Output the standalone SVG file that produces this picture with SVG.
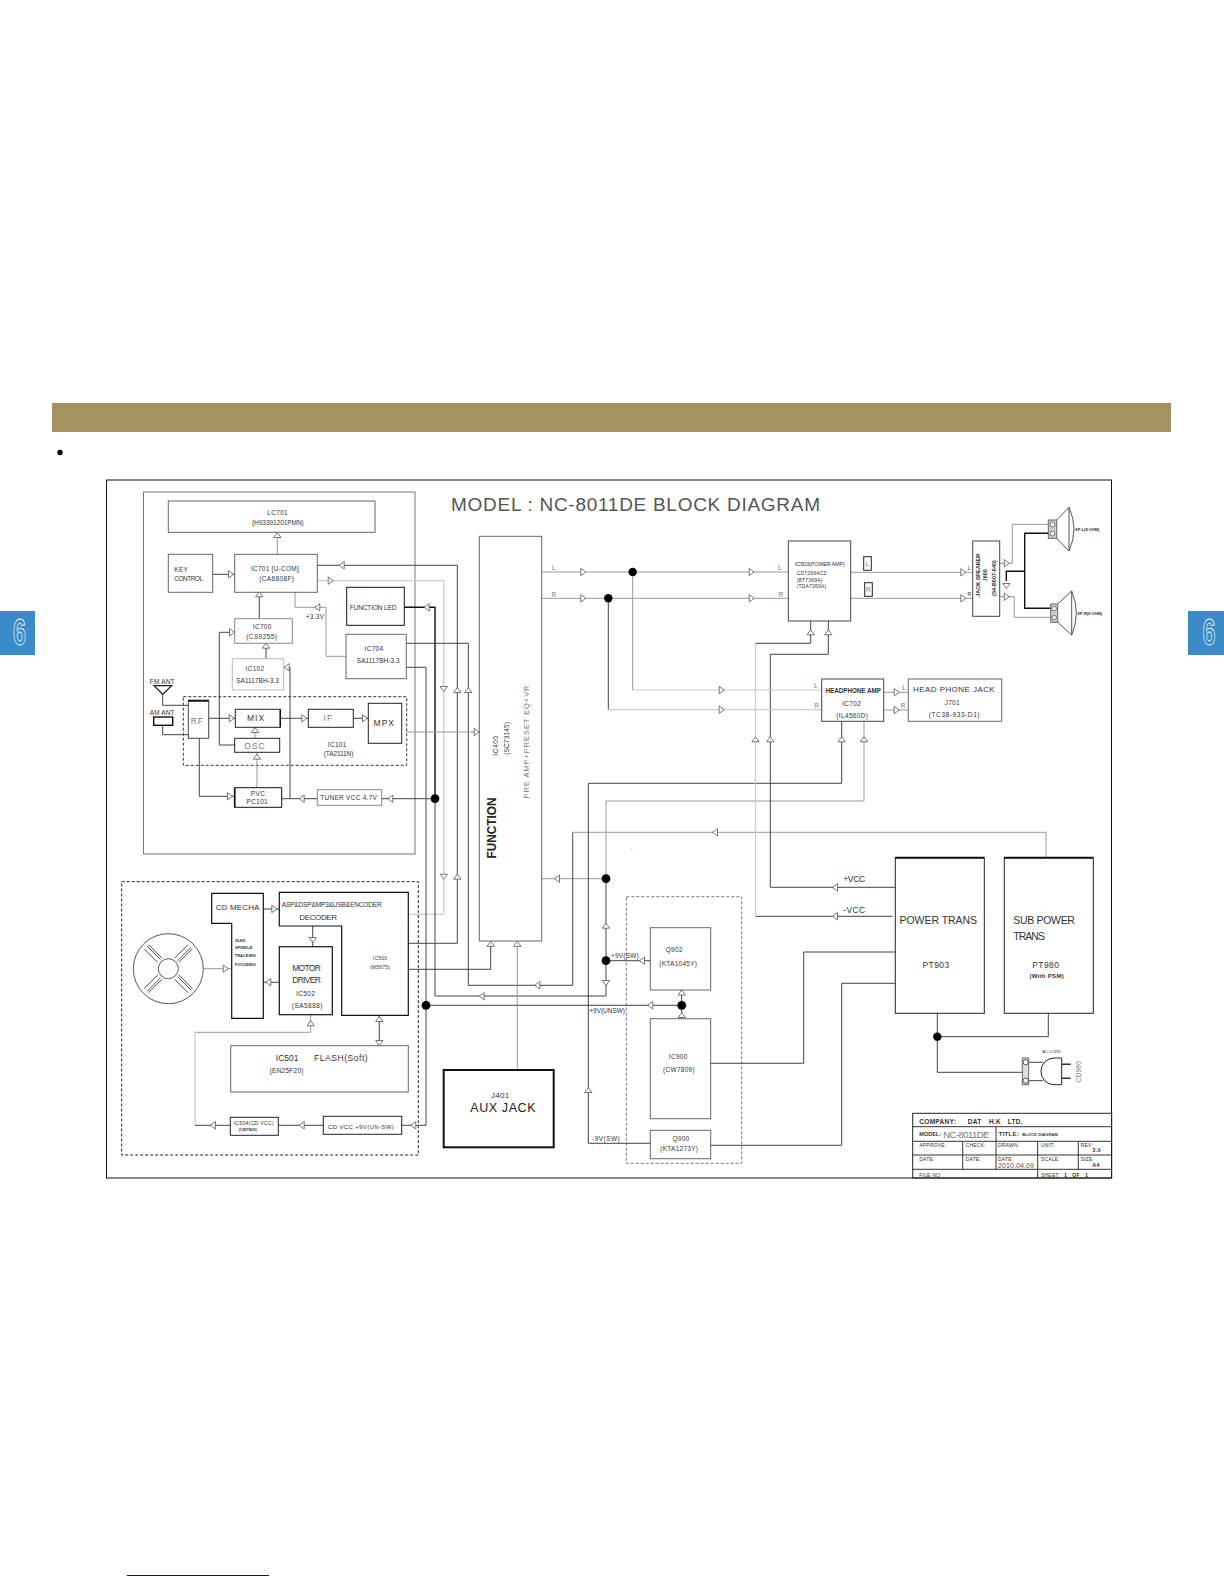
<svg xmlns="http://www.w3.org/2000/svg" width="1224" height="1584" viewBox="0 0 1224 1584">
<style>
text{font-family:"Liberation Sans",Arial,sans-serif;fill:#333;font-size:6.5px;letter-spacing:.3px;dominant-baseline:central}
.m{text-anchor:middle}
.b{font-weight:bold}
.g{fill:#777}
.s{font-size:5px;letter-spacing:.2px}
.t{font-size:4px;letter-spacing:0;font-weight:bold}
.l{font-size:8.5px;letter-spacing:1px}
.xl{font-size:10.5px;letter-spacing:1.4px}
.box{fill:none;stroke:#444;stroke-width:1}
.gb{fill:none;stroke:#888;stroke-width:1}
.lb{fill:none;stroke:#bbb;stroke-width:1}
.hb{fill:none;stroke:#111;stroke-width:1.5}
.dash{fill:none;stroke:#444;stroke-width:1;stroke-dasharray:3 2}
.c{fill:none;stroke:#444;stroke-width:1}
.cg{fill:none;stroke:#999;stroke-width:1}
.cl{fill:none;stroke:#ccc;stroke-width:1.2}
.ck{fill:none;stroke:#111;stroke-width:1.4}
.arrow{fill:#fff;stroke:#555;stroke-width:.8}
.dot{fill:#000}
</style>
<defs>
<path id="a" d="M-2.5 -3.7 L2.5 0 L-2.5 3.7Z"/>
</defs>
<rect x="0" y="0" width="1224" height="1584" fill="#fff"/>
<g id="page">
<rect x="52" y="403" width="1119" height="29" fill="#a3915f"/>
<circle cx="60" cy="452.5" r="2.7" fill="#000"/>
<rect x="0" y="611" width="35" height="44" fill="#3a8cc8"/>
<rect x="1188" y="611" width="36" height="44" fill="#3a8cc8"/>
<text x="19.5" y="632" class="m" textLength="13" lengthAdjust="spacingAndGlyphs" style="font-size:36px;fill:none;stroke:#fff;stroke-width:.8;font-weight:bold;letter-spacing:0">6</text>
<text x="1209" y="632" class="m" textLength="13" lengthAdjust="spacingAndGlyphs" style="font-size:36px;fill:none;stroke:#fff;stroke-width:.8;font-weight:bold;letter-spacing:0">6</text>
<rect x="106.5" y="480" width="1005" height="698" fill="none" stroke="#111" stroke-width="1"/>
<line x1="127" y1="1575.5" x2="269" y2="1575.5" stroke="#101080" stroke-width="1"/>
<text x="451" y="504.5" textLength="369" style="font-size:19px;letter-spacing:0;fill:#555">MODEL : NC-8011DE BLOCK DIAGRAM</text>
<rect x="143.5" y="492" width="271.5" height="362" class="box" style="stroke:#777"/>
<rect x="121.7" y="881.7" width="296.6" height="273.3" class="dash" style="stroke:#222"/>
<rect x="183.3" y="696.7" width="223.4" height="68.6" class="dash" style="stroke:#333"/>
<rect x="626.3" y="896.7" width="115.4" height="266.6" class="dash" style="stroke:#777"/>
<circle cx="631.7" cy="849" r=".6" fill="#888"/>
</g>
<g id="connectors">
<path class="cg" d="M277.3 532.3V554.3"/>
<path class="c" d="M212.7 574.3H234.7"/>
<path class="c" d="M317.3 565.3H457.3V943.3H408.3"/>
<path class="cl" d="M317.3 580.7H443.7V914.3H408.3"/>
<path class="cg" d="M295 592.3V607.3H326V656.3H346"/>
<path class="ck" d="M404.3 607.3H435V798.7"/>
<path class="c" d="M435 798.7V996H606V878.7"/>
<path class="cg" d="M606 878.7H541.7"/>
<path class="cg" d="M606 878.7V801H864V721.3"/>
<path class="c" d="M606 960.7H650.3"/>
<path class="c" d="M406.3 643.3H468.3V985.3H572.7V832.3"/>
<path class="cg" d="M572.7 832.3H1046V857.7"/>
<path class="c" d="M406.3 667.3H426V1125.3H401.7"/>
<path class="c" d="M426 1005.3H681.7"/>
<path class="c" d="M681.7 990V1018.7"/>
<path class="c" d="M588.3 1143.3V783.3H841.7V721.3"/>
<path class="c" d="M588.3 1143.3H650.3"/>
<path class="c" d="M710.7 1063.3H803.7V952H895.3"/>
<path class="c" d="M710.7 1145.3H841.7V983.3H895.3"/>
<path class="c" d="M895.3 887.3H770.3V654.3H828.3V621"/>
<path class="c" d="M892.7 916.3H755.5"/>
<path class="cl" d="M755.5 916.3V643.3"/>
<path class="c" d="M755.5 643.3H810.7V621"/>
<path class="cg" d="M541.7 572H788.3"/>
<path class="cg" d="M541.7 598.3H788.3"/>
<path class="cg" d="M632.7 572V690"/>
<path class="cl" d="M632.7 690H821.7"/>
<path class="c" d="M608.3 598.3V709.7"/>
<path class="cl" d="M608.3 709.7H821.7"/>
<path class="cg" d="M883.7 692.3H908.3"/>
<path class="cg" d="M883.7 710H908.3"/>
<path class="cg" d="M850.7 572.3H972.7"/>
<path class="cg" d="M850.7 598.3H972.7"/>
<path class="cg" d="M999.7 563.3H1012.3V524.3H1048.3"/>
<path class="cg" d="M999.7 596.7H1014.3V617.3H1050.7"/>
<path class="ck" d="M1006.3 581V571.3H1024.7M1048.3 533.3H1024.7V608.3H1050.7"/>
<path class="cg" d="M406.7 732H479.3"/>
<path class="c" d="M408.3 969.3H490.7V941"/>
<path class="cg" d="M517.3 941V1070"/>
<path class="c" d="M259.3 592.3V618.7"/>
<path class="c" d="M266 643.3V658.7"/>
<path class="c" d="M234.7 745H219.3V632.3H234.7"/>
<path class="c" d="M162.7 694.3V705.3H188.3"/>
<path class="c" d="M162.7 725.3V734.7H188.3"/>
<path class="c" d="M208.7 718.3H235.3"/>
<path class="c" d="M280.3 718.3H308.3"/>
<path class="c" d="M353.3 718.3H368.3"/>
<path class="cg" d="M255 727.3V738.3"/>
<path class="cg" d="M257 752.3V787.7"/>
<path class="c" d="M199.3 738.3V796.3H234.7"/>
<path class="c" d="M281.7 798.7H317.3"/>
<path class="c" d="M290 798.7V667.3H283.7"/>
<path class="c" d="M381.7 798.7H435"/>
<path class="c" d="M263.3 909H279.3"/>
<path class="c" d="M312.7 926V946.7"/>
<path class="c" d="M279.3 982.3H263.3"/>
<path class="cg" d="M203.3 968.7H231.7"/>
<path class="c" d="M379.3 1015.3V1045.7"/>
<path class="cg" d="M310.7 1014.7V1032.3H195"/>
<path class="cl" d="M195 1032.3V1125.3"/>
<path class="c" d="M195 1125.3H230.3"/>
<path class="c" d="M278.3 1125.3H323.3"/>
<path class="c" d="M937.3 1013.3V1072.3H1022.3"/>
<path class="c" d="M937.3 1036.7H1048.3V1013.3"/>
<path class="c" d="M1028.7 1062.3H1043M1028.7 1080.7H1043"/>
<g class="arrow">
<use href="#a" transform="translate(277.3 535) rotate(-90)"/>
<use href="#a" transform="translate(231 574.3)"/>
<use href="#a" transform="translate(341.7 565.3) rotate(180)"/>
<use href="#a" transform="translate(330.7 580.7)"/>
<use href="#a" transform="translate(317.3 607.3) rotate(180)"/>
<use href="#a" transform="translate(426.7 607.3) rotate(180)"/>
<use href="#a" transform="translate(259.3 594.3) rotate(-90)"/>
<use href="#a" transform="translate(232 632.3)"/>
<use href="#a" transform="translate(266 645.7) rotate(-90)"/>
<use href="#a" transform="translate(286.7 667.3) rotate(180)"/>
<use href="#a" transform="translate(231.7 718.3)"/>
<use href="#a" transform="translate(304.3 718.3)"/>
<use href="#a" transform="translate(365 718.3)"/>
<use href="#a" transform="translate(255 730) rotate(-90)"/>
<use href="#a" transform="translate(257 756.7) rotate(-90)"/>
<use href="#a" transform="translate(230 796.3)"/>
<use href="#a" transform="translate(301.7 798.7) rotate(180)"/>
<use href="#a" transform="translate(390.3 798.7) rotate(180)"/>
<use href="#a" transform="translate(443.7 689) rotate(90)"/>
<use href="#a" transform="translate(457.3 690) rotate(-90)"/>
<use href="#a" transform="translate(468.3 690) rotate(-90)"/>
<use href="#a" transform="translate(476.7 732)"/>
<use href="#a" transform="translate(443.7 876.7) rotate(90)"/>
<use href="#a" transform="translate(457.3 876.7) rotate(-90)"/>
<use href="#a" transform="translate(490.7 943.8) rotate(-90)"/>
<use href="#a" transform="translate(517.3 943.8) rotate(-90)"/>
<use href="#a" transform="translate(557 878.7) rotate(180)"/>
<use href="#a" transform="translate(606 925.7) rotate(-90)"/>
<use href="#a" transform="translate(606 983) rotate(90)"/>
<use href="#a" transform="translate(642 960.7) rotate(180)"/>
<use href="#a" transform="translate(537.3 985.3) rotate(180)"/>
<use href="#a" transform="translate(481.7 996.3) rotate(180)"/>
<use href="#a" transform="translate(650.3 1005.3) rotate(180)"/>
<use href="#a" transform="translate(681.7 992.5) rotate(-90)"/>
<use href="#a" transform="translate(681.7 1015) rotate(-90)"/>
<use href="#a" transform="translate(588.3 1090) rotate(-90)"/>
<use href="#a" transform="translate(715 832.3) rotate(180)"/>
<use href="#a" transform="translate(583.3 572)"/>
<use href="#a" transform="translate(583.3 598.3)"/>
<use href="#a" transform="translate(751.7 572)"/>
<use href="#a" transform="translate(751.7 598.3)"/>
<use href="#a" transform="translate(721.7 690)"/>
<use href="#a" transform="translate(721.7 709.7)"/>
<use href="#a" transform="translate(755.5 739.3) rotate(-90)"/>
<use href="#a" transform="translate(770.3 739.3) rotate(-90)"/>
<use href="#a" transform="translate(810.7 632.3) rotate(-90)"/>
<use href="#a" transform="translate(828.3 632.3) rotate(-90)"/>
<use href="#a" transform="translate(841.7 739.3) rotate(-90)"/>
<use href="#a" transform="translate(864 739.3) rotate(-90)"/>
<use href="#a" transform="translate(896.7 692.3)"/>
<use href="#a" transform="translate(896.7 710)"/>
<use href="#a" transform="translate(963.3 572.3)"/>
<use href="#a" transform="translate(963.3 598.3)"/>
<use href="#a" transform="translate(1006.7 563.3)"/>
<use href="#a" transform="translate(1006.7 596.7)"/>
<use href="#a" transform="translate(1006.3 586) rotate(90)"/>
<use href="#a" transform="translate(835 887.3) rotate(180)"/>
<use href="#a" transform="translate(835 916.3) rotate(180)"/>
<use href="#a" transform="translate(274.3 909)"/>
<use href="#a" transform="translate(312.7 940) rotate(90)"/>
<use href="#a" transform="translate(268.3 982.3) rotate(180)"/>
<use href="#a" transform="translate(225.7 968.7)"/>
<use href="#a" transform="translate(379.3 1019) rotate(-90)"/>
<use href="#a" transform="translate(379.3 1043) rotate(90)"/>
<use href="#a" transform="translate(310.7 1023.3) rotate(-90)"/>
<use href="#a" transform="translate(213 1125.3) rotate(180)"/>
<use href="#a" transform="translate(301.7 1125.3) rotate(180)"/>
<use href="#a" transform="translate(413.3 1125.3) rotate(180)"/>
</g>
<g class="dot">
<circle cx="435" cy="798.7" r="4.4"/>
<circle cx="426" cy="1005.3" r="4.4"/>
<circle cx="632.7" cy="572" r="4.2"/>
<circle cx="608.3" cy="598.3" r="4.2"/>
<circle cx="606" cy="878.7" r="4.4"/>
<circle cx="606" cy="960.7" r="4.4"/>
<circle cx="681.7" cy="1005.3" r="4.4"/>
<circle cx="937.3" cy="1036.7" r="4.2"/>
</g>
<g id="connector-labels">
<text x="315" y="616.7" class="m">+3.3V</text>
<text x="554" y="567" class="m g">L</text>
<text x="554" y="594" class="m g">R</text>
<text x="780" y="567.7" class="m g">L</text>
<text x="781" y="594.3" class="m g">R</text>
<text x="816" y="685.7" class="m g">L</text>
<text x="816.7" y="705" class="m g">R</text>
<text x="904.3" y="687.3" class="m g">L</text>
<text x="903.3" y="705" class="m g">R</text>
<text x="969.3" y="567.7" class="m s">L</text>
<text x="969.3" y="594.3" class="m s">R</text>
<text x="625" y="955" class="m" textLength="28">+9V(SW)</text>
<text x="607.3" y="1010.7" class="m" textLength="36">+9V(UNSW)</text>
<text x="606" y="1138.3" class="m" textLength="28">-9V(SW)</text>
<text x="854.7" y="878.7" class="m l" textLength="23">+VCC</text>
<text x="854.7" y="909.7" class="m l" textLength="23">-VCC</text>
</g>
</g>
<g id="LC701"><rect x="168.3" y="501" width="206.7" height="31.3" class="gb" style="stroke:#666"/><text x="277.7" y="512" class="m">LC701</text><text x="278" y="522.7" class="m" textLength="52">(H93391201PMN)</text></g>
<g id="KEY_CONTROL"><rect x="168.3" y="554.3" width="44.4" height="38" class="gb" style="stroke:#666"/><text x="174.3" y="569">KEY</text><text x="174.3" y="578" textLength="29">CONTROL</text></g>
<g id="IC701"><rect x="234.7" y="554.3" width="82.6" height="38" class="gb" style="stroke:#666"/><text x="275" y="568.3" class="m" textLength="48">IC701 [U-COM]</text><text x="276.7" y="578.3" class="m" textLength="35">(CA6808F)</text></g>
<g id="FUNCTION_LED"><rect x="346.7" y="587.3" width="57.6" height="38" class="hb" style="stroke-width:1"/><text x="373.3" y="607.7" class="m" textLength="47">FUNCTION LED</text></g>
<g id="IC700"><rect x="234.7" y="618.7" width="57.6" height="24.6" class="gb"/><text x="262.3" y="626.7" class="m">IC700</text><text x="261.7" y="636" class="m" textLength="31">(CS9255)</text></g>
<g id="IC704"><rect x="346" y="634.3" width="60.3" height="44.4" class="gb" style="stroke:#666"/><text x="374" y="648" class="m">IC704</text><text x="378.3" y="660" class="m" textLength="43">SA1117BH-3.3</text></g>
<g id="IC102"><rect x="232.3" y="658.7" width="51.4" height="31.3" class="lb"/><text x="255" y="668.3" class="m">IC102</text><text x="257.7" y="680.7" class="m" textLength="43">SA1117BH-3.3</text></g>
<g id="FM_ANT"><path d="M154 685.7H171.7L162.7 694.3Z" fill="none" stroke="#222" stroke-width="1.2"/><text x="162.3" y="681" class="m" textLength="25">FM ANT</text></g>
<g id="AM_ANT"><rect x="153.7" y="717" width="19" height="8.3" fill="none" stroke="#111" stroke-width="1.4"/><text x="162.3" y="712.3" class="m" textLength="25">AM ANT</text></g>
<g id="RF"><rect x="188.3" y="700.7" width="20.4" height="37.6" class="box"/><path d="M188.3 700.7H208.7" stroke="#111" stroke-width="2"/><text x="197.3" y="720.7" class="m g l">RF</text></g>
<g id="MIX"><rect x="235.3" y="709.3" width="45" height="18" class="box" style="stroke:#222"/><path d="M280.3 709.3V727.3" stroke="#111" stroke-width="1.5"/><text x="256" y="718.3" class="m l">MIX</text></g>
<g id="IF"><rect x="308.3" y="709.3" width="45" height="18" class="box" style="stroke:#222"/><text x="328.3" y="718.3" class="m g l">IF</text></g>
<g id="MPX"><rect x="368.3" y="703.3" width="33.4" height="40" class="box" style="stroke:#222"/><text x="384.3" y="722.7" class="m l">MPX</text></g>
<g id="OSC"><rect x="234.7" y="738.3" width="45" height="14" class="box" style="stroke:#222"/><text x="255" y="746" class="m g l">OSC</text></g>
<g id="IC101"><text x="337.3" y="744.7" class="m">IC101</text><text x="338.7" y="753.3" class="m" textLength="30">(TA2111N)</text></g>
<g id="PVC"><rect x="234.7" y="787.7" width="47" height="19.6" class="box" style="stroke:#111"/><path d="M234.7 787.7V807.3" stroke="#111" stroke-width="1.6"/><text x="258" y="793.3" class="m">PVC</text><text x="257.3" y="801.7" class="m">PC101</text></g>
<g id="TUNER_VCC"><rect x="317.3" y="789.7" width="64.4" height="15.6" class="gb"/><text x="348.7" y="797.7" class="m" textLength="57">TUNER VCC 4.7V</text></g>
<g id="IC400"><rect x="479.3" y="536.3" width="62.4" height="404.7" class="gb" style="stroke:#666"/>
<text transform="translate(491 828) rotate(-90)" class="m b" style="font-size:13px;letter-spacing:0;fill:#222" textLength="61" lengthAdjust="spacingAndGlyphs">FUNCTION</text>
<text transform="translate(495.7 745.7) rotate(-90)" class="m" textLength="20">IC400</text>
<text transform="translate(506 738.3) rotate(-90)" class="m" textLength="33">(SC73145)</text>
<text transform="translate(526.7 741.7) rotate(-90)" class="m g" style="font-size:7.5px" textLength="113">PRE AMP+PRESET EQ+VR</text></g>
<g id="IC503"><rect x="788.3" y="541" width="62.4" height="80" class="box"/><text x="820" y="564" class="m" style="font-size:5.5px;letter-spacing:.2px" textLength="50">IC503(POWER AMP)</text><text x="796.7" y="573.3" class="s">CD7269ACZ</text><text x="796.7" y="579.7" class="s">(BT7369A)</text><text x="796.7" y="586.3" class="s">(TDA7269A)</text></g>
<g id="LABEL_L"><rect x="863.7" y="556.7" width="7.6" height="13.6" fill="none" stroke="#222"/><text x="867.5" y="563.5" class="m g">L</text></g>
<g id="LABEL_R"><rect x="864.7" y="582.7" width="7.6" height="13.6" fill="none" stroke="#222"/><text x="868.5" y="589.5" class="m g">R</text></g>
<g id="J600"><rect x="972.7" y="541" width="27" height="75.3" class="box"/>
<text transform="translate(978.3 575.3) rotate(-90)" class="m b" style="font-size:5.5px;letter-spacing:0">JACK SPEAKER</text>
<text transform="translate(984.7 575.3) rotate(-90)" class="m b" style="font-size:5.5px;letter-spacing:0">J600</text>
<text transform="translate(993.7 578) rotate(-90)" class="m b" style="font-size:5.5px;letter-spacing:0">(54-B007-040)</text></g>
<g id="SP_L"><rect x="1048.3" y="520" width="8.4" height="18.3" fill="#ccc" stroke="#666"/><circle cx="1052.5" cy="524.5" r="2.4" fill="#fff" stroke="#444" stroke-width=".7"/><circle cx="1052.5" cy="533.5" r="2.4" fill="#fff" stroke="#444" stroke-width=".7"/><path d="M1056.7 520L1069 507.3V551L1056.7 538.3M1069 507.3Q1079 529.3 1069 551" fill="none" stroke="#555"/><text x="1075" y="529.3" class="t">SP-L(8 OHM)</text></g>
<g id="SP_R"><rect x="1050.7" y="604" width="7" height="18.3" fill="#ccc" stroke="#666"/><circle cx="1054.2" cy="608.5" r="2.2" fill="#fff" stroke="#444" stroke-width=".7"/><circle cx="1054.2" cy="617.5" r="2.2" fill="#fff" stroke="#444" stroke-width=".7"/><path d="M1057.7 604L1071.7 591V635L1057.7 622.3M1071.7 591Q1081 613.3 1071.7 635" fill="none" stroke="#555"/><text x="1077.3" y="613.3" class="t">SP-R(8 OHM)</text></g>
<g id="IC702"><rect x="821.7" y="679" width="62" height="42.3" class="box"/><text x="853.3" y="690" class="m b" style="font-size:6.3px;letter-spacing:.1px" textLength="55.5">HEADPHONE AMP</text><text x="851.7" y="703.3" class="m">IC702</text><text x="852.3" y="715" class="m" textLength="32">(IL4560D)</text></g>
<g id="J701"><rect x="908.3" y="679" width="93.4" height="42.3" class="gb" style="stroke:#666"/><text x="954" y="689" class="m" style="font-size:8px" textLength="82">HEAD PHONE JACK</text><text x="952.3" y="702.7" class="m">J701</text><text x="954.3" y="714.7" class="m" textLength="51">(TC38-933-D1)</text></g>
<g id="POWER_TRANS"><rect x="895.3" y="857.7" width="89" height="155.6" class="box" style="stroke:#222"/><path d="M895.3 857.7H984.3" stroke="#111" stroke-width="2"/><text x="939" y="920.3" class="m xl" textLength="79">POWER TRANS</text><text x="936" y="965.3" class="m" style="font-size:8.5px" textLength="27">PT903</text></g>
<g id="SUB_POWER_TRANS"><rect x="1004.3" y="857.7" width="89" height="155.6" class="box" style="stroke:#222"/><path d="M1004.3 857.7H1093.3" stroke="#111" stroke-width="2"/><text x="1013.3" y="920.3" class="xl" textLength="63">SUB POWER</text><text x="1013.3" y="936" class="xl" textLength="33">TRANS</text><text x="1045.7" y="964.7" class="m" style="font-size:8.5px" textLength="27">PT980</text><text x="1046.7" y="976.3" class="m b" style="font-size:6px">(With PSM)</text></g>
<g id="AC_CORD"><rect x="1022.3" y="1058" width="6.4" height="26.7" fill="#ddd" stroke="#666"/><circle cx="1025.7" cy="1062.3" r="2.6" fill="#fff" stroke="#333" stroke-width=".8"/><circle cx="1025.7" cy="1080.7" r="2.6" fill="#fff" stroke="#333" stroke-width=".8"/><path d="M1061.7 1058V1084.7H1054A13 13.3 0 0 1 1054 1058Z" fill="#fff" stroke="#222"/><path d="M1061.7 1064.3H1070.7M1061.7 1078.3H1070.7" stroke="#333" stroke-width="1.6"/><text x="1051.7" y="1051.7" class="m t" style="font-weight:normal">AC-CORD</text><text transform="translate(1078.3 1071.7) rotate(-90)" class="m g">CD980</text></g>
<g id="Q902"><rect x="650.3" y="927.7" width="60.4" height="62.3" class="gb" style="stroke:#666"/><text x="674.3" y="949.3" class="m">Q902</text><text x="678.3" y="963.3" class="m" textLength="38">(KTA1045Y)</text></g>
<g id="IC900"><rect x="650.3" y="1018.7" width="60.4" height="100" class="gb" style="stroke:#666"/><text x="678.3" y="1056" class="m">IC900</text><text x="679" y="1069.3" class="m" textLength="32">(CW7809)</text></g>
<g id="Q900"><rect x="650.3" y="1130.3" width="60.4" height="28.4" class="gb" style="stroke:#666"/><text x="681" y="1138.3" class="m">Q900</text><text x="679.3" y="1148.3" class="m" textLength="38">(KTA1273Y)</text></g>
<g id="J401"><rect x="443.7" y="1070" width="110" height="77.3" fill="none" stroke="#111" stroke-width="2"/><text x="500.3" y="1095.7" class="m" style="font-size:8px">J401</text><text x="503.3" y="1108.3" class="m" style="font-size:12.5px;letter-spacing:.8px;fill:#222" textLength="66">AUX JACK</text></g>
<g id="CD_MECHA"><path d="M211.7 893.3H263.3V1018.3H231.7V923.3H211.7Z" fill="none" stroke="#111" stroke-width="1.2"/><text x="237.7" y="907" class="m" style="font-size:8px" textLength="44">CD MECHA</text><text x="235" y="940.3" class="t">SLED</text><text x="235" y="947.7" class="t">SPINDLE</text><text x="234.7" y="955.3" class="t">TRACKING</text><text x="234.7" y="964.7" class="t">FOCUSING</text></g>
<g id="IC500"><path d="M279.3 892.3H408.3V1015.3H341.7V926H279.3Z" fill="none" stroke="#111" stroke-width="1.2"/><text x="281.7" y="904.3" style="font-size:6.5px;letter-spacing:0" textLength="100">ASP&amp;DSP&amp;MP3&amp;USB&amp;ENCODER</text><text x="318.3" y="917.7" class="m" style="font-size:8px" textLength="38">DECODER</text><text x="380" y="957.7" class="m s">IC500</text><text x="380" y="966.7" class="m s">(M5675)</text></g>
<g id="IC502"><rect x="279.3" y="946.7" width="53" height="68" fill="none" stroke="#111" stroke-width="1.2"/><text x="306.7" y="968" class="m" style="font-size:8.5px" textLength="29">MOTOR</text><text x="306.7" y="980" class="m" style="font-size:8.5px" textLength="29">DRIVER</text><text x="305.7" y="993.3" class="m">IC502</text><text x="307.3" y="1005.3" class="m" textLength="31">(SA5888)</text></g>
<g id="DISC" fill="none" stroke="#444" stroke-width=".9"><circle cx="168.3" cy="968.7" r="35"/><circle cx="168.3" cy="968.7" r="10"/>
<path transform="translate(168.3 968.7) rotate(45)" d="M12 -3H31M12 3H31M12 -1H31M-12 -3H-31M-12 3H-31M-12 -1H-31"/>
<path transform="translate(168.3 968.7) rotate(135)" d="M12 -3H31M12 3H31M12 -1H31M-12 -3H-31M-12 3H-31M-12 -1H-31"/></g>
<g id="IC501"><rect x="230.7" y="1045.7" width="177.6" height="46.3" class="gb" style="stroke:#666"/><text x="287.3" y="1058.3" class="m" style="font-size:8.5px" textLength="23">IC501</text><text x="341" y="1058.3" class="m" style="font-size:8.5px" textLength="54">FLASH(Soft)</text><text x="286.7" y="1070.3" class="m" textLength="34">(EN25F20)</text></g>
<g id="IC504"><rect x="230.3" y="1117.3" width="48" height="18" class="box" style="stroke:#222"/><text x="253.7" y="1123.3" class="m" style="font-size:5.2px;letter-spacing:.1px" textLength="40">IC504(CD VCC)</text><text x="247.7" y="1129.7" class="m t">(CW7805)</text></g>
<g id="CD_VCC"><rect x="323.3" y="1116.3" width="78.4" height="18" class="box" style="stroke:#222"/><text x="361" y="1126.7" class="m" style="font-size:6px" textLength="66">CD VCC +9V(UN-SW)</text></g>
<g id="TITLE_BLOCK"><rect x="912.7" y="1113.3" width="199" height="64.7" fill="none" stroke="#222"/>
<path d="M912.7 1126.7H1111.7M912.7 1141.3H1111.7M912.7 1155H1111.7M912.7 1169.3H1111.7M996 1126.7V1141.3M962.7 1141.3V1169.3M996 1141.3V1169.3M1037.7 1141.3V1178M1078.3 1141.3V1169.3" fill="none" stroke="#333"/>
<text x="919.3" y="1121" class="b" style="font-size:6.5px">COMPANY:</text><text x="967.7" y="1121" class="b" style="font-size:6.5px">DAT</text><text x="989" y="1121" class="b" style="font-size:6.5px">H.K</text><text x="1007.7" y="1121" class="b" style="font-size:6.5px">LTD.</text>
<text x="919.3" y="1134" class="b" style="font-size:5.5px;letter-spacing:0">MODEL:</text><text x="943.3" y="1134" class="g" style="font-size:9.5px;letter-spacing:0" textLength="46">NC-8011DE</text><text x="998.7" y="1134" class="b" style="font-size:6px">TITLE:</text><text x="1022.3" y="1134" class="t" textLength="35.5">BLOCK DIAGRAM</text>
<text x="919.3" y="1145" class="s">APPROVE:</text><text x="965.7" y="1145" class="s">CHECK:</text><text x="998" y="1145" class="s">DRAWN:</text><text x="1041" y="1145" class="s">UNIT:</text><text x="1080.7" y="1145" class="s">REV:</text><text x="1092.3" y="1150.3" class="b" style="font-size:5.5px">3.0</text>
<text x="919.3" y="1158.5" class="s">DATE:</text><text x="965.7" y="1158.5" class="s">DATE:</text><text x="998" y="1158.5" class="s">DATE:</text><text x="998" y="1165" style="font-size:7px;letter-spacing:0;fill:#555" textLength="36">2010.04.09</text><text x="1041" y="1158.5" class="s">SCALE:</text><text x="1080.7" y="1158.5" class="s">SIZE:</text><text x="1092.3" y="1165" class="b" style="font-size:5.5px">A4</text>
<text x="919.3" y="1174.7" class="s">FILE NO:</text><text x="1041" y="1174.7" class="s">SHEET:</text><text x="1064" y="1174.7" class="b" style="font-size:5.5px">1</text><text x="1072.3" y="1174.7" class="s b">OF</text><text x="1085" y="1174.7" class="b" style="font-size:5.5px">1</text></g>
</svg>
